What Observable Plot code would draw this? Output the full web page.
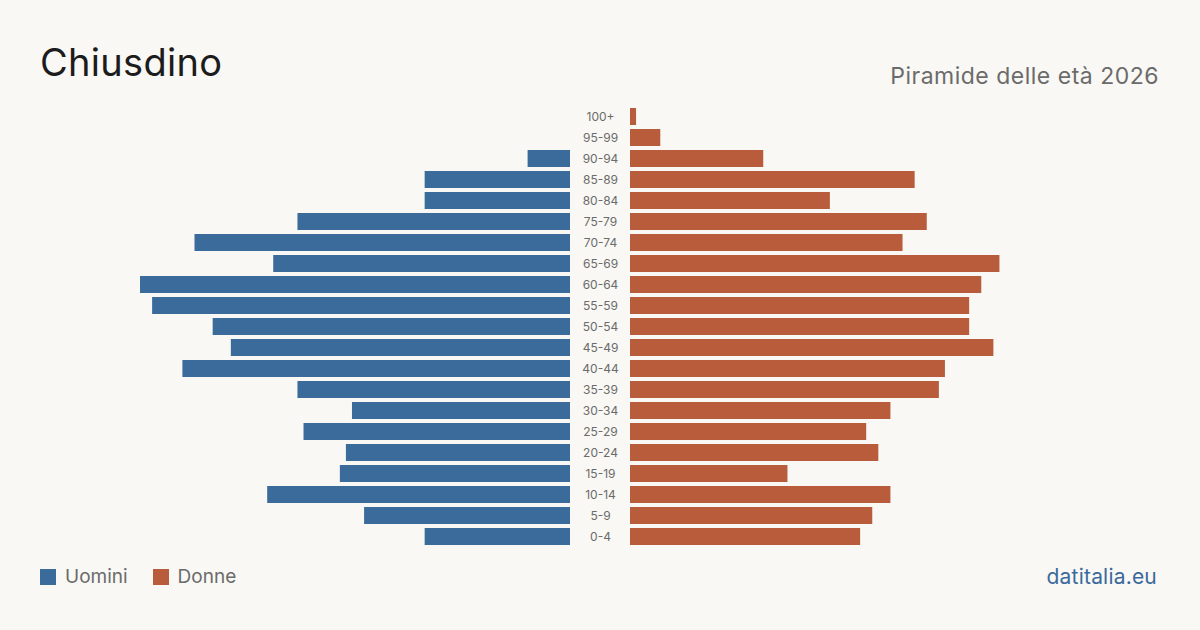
<!DOCTYPE html>
<html>
<head>
<meta charset="utf-8">
<script src="https://cdn.jsdelivr.net/npm/d3@7"></script>
<script src="https://cdn.jsdelivr.net/npm/@observablehq/plot@0.6"></script>
<style>
  html, body { margin: 0; padding: 0; background: #f9f8f4; }
  body { width: 1200px; height: 630px; position: relative; overflow: hidden; font-family: Inter, "Noto Sans", sans-serif; }
  #title { position: absolute; left: 40px; top: 43px; font-size: 38px; color: #1c1c1c; line-height: 1; letter-spacing: 0.3px; }
  #subtitle { position: absolute; right: 41px; top: 65px; font-size: 23px; color: #6b6b6b; line-height: 1; letter-spacing: 0.5px; }
  #chart { position: absolute; left: 0; top: 96px; width: 1200px; height: 460px; }
  #chart svg { position: absolute; top: 0; }
  #legend { position: absolute; left: 40px; top: 567px; font-size: 19px; color: #6b6b6b; display: flex; align-items: center; line-height: 1; }
  #legend .sw { display: inline-block; width: 16px; height: 16px; margin-right: 9px; }
  #legend .item { display: flex; align-items: center; margin-right: 25px; }
  #source { position: absolute; right: 43px; top: 566px; font-size: 21px; color: #3a6a9c; line-height: 1; letter-spacing: 0.2px; }
</style>
</head>
<body>
<div id="title">Chiusdino</div>
<div id="subtitle">Piramide delle età 2026</div>
<div id="chart"></div>
<div id="legend">
  <span class="item"><span class="sw" style="background:#3b6b9b"></span>Uomini</span>
  <span class="item"><span class="sw" style="background:#b95c3c"></span>Donne</span>
</div>
<div id="source">datitalia.eu</div>
<script>
const ages = ["100+","95-99","90-94","85-89","80-84","75-79","70-74","65-69","60-64","55-59","50-54","45-49","40-44","35-39","30-34","25-29","20-24","15-19","10-14","5-9","0-4"];
const maleValues = [0,0,7,24,24,45,62,49,71,69,59,56,64,45,36,44,37,38,50,34,24];
const femaleValues = [1,5,22,47,33,49,45,61,58,56,56,60,52,51,43,39,41,26,43,40,38];

const male = ages.map((a, i) => ({age: a, value: maleValues[i]}));
const female = ages.map((a, i) => ({age: a, value: femaleValues[i]}));
const maxV = 71;
const H = 460;
const yOpts = {domain: ages, range: [10.5, 451.5], paddingInner: 0.19, paddingOuter: 0.095, axis: null};

const left = Plot.plot({
  width: 600, height: H,
  marginLeft: 140, marginRight: 30, marginTop: 0, marginBottom: 0,
  style: {background: "transparent", overflow: "visible"},
  x: {domain: [0, maxV], reverse: true, axis: null},
  y: yOpts,
  marks: [
    Plot.barX(male, {x: "value", y: "age", fill: "#3b6b9b"}),
    Plot.text(ages, {y: d => d, frameAnchor: "right", dx: 30, textAnchor: "middle", fill: "#6b6b6b", fontSize: 12, fontFamily: "Inter, sans-serif"})
  ]
});
left.style.left = "0px";

const right = Plot.plot({
  width: 600, height: H,
  marginLeft: 30, marginRight: 140, marginTop: 0, marginBottom: 0,
  style: {background: "transparent", overflow: "visible"},
  x: {domain: [0, maxV], axis: null},
  y: yOpts,
  marks: [
    Plot.barX(female, {x: "value", y: "age", fill: "#b95c3c"})
  ]
});
right.style.left = "600px";

const chart = document.getElementById("chart");
chart.appendChild(left);
chart.appendChild(right);
</script>
</body>
</html>
